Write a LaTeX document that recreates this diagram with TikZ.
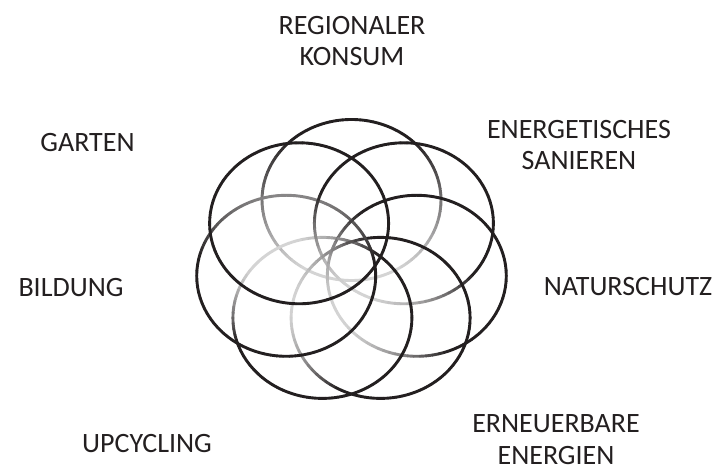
\documentclass[tikz,border=0pt]{standalone}
\usepackage{fontspec}
\setmainfont{Carlito}
\definecolor{ringdark}{HTML}{231F20}
\definecolor{ringlight}{HTML}{D4D4D4}
\definecolor{txt}{HTML}{231F20}
\newcommand\ringrx{89.5}
\newcommand\ringry{80.5}
\tikzset{
  ringline/.style={line width=2.9pt, line cap=round},
  lbl/.style={font=\fontsize{28}{31}\selectfont, text=txt, inner sep=0pt, align=center, anchor=base}
}
\begin{document}
\begin{tikzpicture}[x=1pt,y=1pt]
\useasboundingbox (0,0) rectangle (719,468);
\fill[white] (0,0) rectangle (719,468);
% rings: centre x / centre y / dark direction / full-dark threshold / lightest threshold
\foreach \lo/\hi in {0/0.34,0.34/0.67,0.67/1.1}{
  \foreach \cx/\cy/\th/\pd/\pl in {
      351.5/268.0/90/0.75/-0.85,
      403.9/244.7/60/-0.15/-1.0,
      416.8/192.2/30/-0.15/-1.0,
      380.6/150.1/-10/-0.3/-1.0,
      322.4/150.1/-55/-0.3/-0.95,
      286.2/192.2/-90/-0.2/-1.6,
      299.1/244.7/141/-2/-3}{
    \foreach \a in {0,4,...,356}{
      \pgfmathsetmacro\pp{cos(\a+2-\th)}
      \pgfmathsetmacro\dd{max(0,min(1,(\pp-(\pl))/((\pd)-(\pl))))}
      \pgfmathtruncatemacro\ok{(\dd>=\lo)&&(\dd<\hi)}
      \ifnum\ok=1
        \pgfmathsetmacro\pc{100*\dd}
        \draw[ringline, draw=ringdark!\pc!ringlight] (\cx,\cy) ++(\a:\ringrx\space and \ringry) arc[start angle=\a, end angle=\a+4, x radius=\ringrx, y radius=\ringry];
      \fi
    }
  }
}
\node[lbl] (regional) at (352,402) {REGIONALER\\KONSUM};
\node[lbl] (energetisch) at (579,298) {ENERGETISCHES\\SANIEREN};
\node[lbl] (garten) at (87.5,316) {GARTEN};
\node[lbl] (bildung) at (71,171) {BILDUNG};
\node[lbl] (natur) at (628,172) {NATURSCHUTZ};
\node[lbl] (upcycling) at (147,16) {UPCYCLING};
\node[lbl, text depth=0pt] (erneuerbar) at (556,4) {ERNEUERBARE\\ENERGIEN};
\end{tikzpicture}
\end{document}
